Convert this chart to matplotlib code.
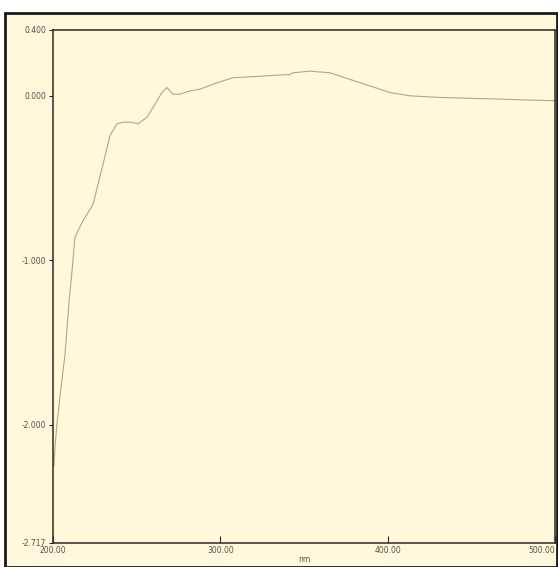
import matplotlib
matplotlib.use("Agg")
import matplotlib.pyplot as plt
from matplotlib.patches import Rectangle

# spectrum
wavelength_nm = [200.6, 201.2, 202.4, 204.8, 207.2, 209.6, 211.4, 213.1, 214.9,
                 217.9, 223.9, 229.3, 234.1, 238.2, 241.8, 246.6, 250.8, 256.2,
                 261.0, 265.1, 268.1, 269.9, 271.7, 275.9, 281.9, 287.8, 298.0,
                 307.6, 325.5, 341.6, 343.4, 353.6, 365.5, 377.5, 389.4, 401.4,
                 413.3, 431.3, 467.1, 500.0]
absorbance = [-2.25, -2.13, -1.99, -1.77, -1.57, -1.25, -1.06, -0.86, -0.82,
              -0.76, -0.66, -0.44, -0.24, -0.17, -0.16, -0.16, -0.17, -0.13,
              -0.05, 0.02, 0.05, 0.03, 0.01, 0.01, 0.03, 0.04, 0.08,
              0.11, 0.12, 0.13, 0.14, 0.15, 0.14, 0.10, 0.06, 0.02,
              0.00, -0.01, -0.02, -0.03]

x_ticks = [200, 300, 400, 500]
x_labels = ["200.00", "300.00", "400.00", "500.00"]
y_ticks = [0.4, 0.0, -1.0, -2.0, -2.717]
y_labels = ["0.400", "0.000", "-1.000", "-2.000", "-2.717"]

PAPER = "#fff8da"
INK = "#2e2828"
TRACE = "#b8a47e"
LABEL = "#555050"

fig = plt.figure(figsize=(5.58, 5.67), dpi=100, facecolor="white")
W, H = 558, 567
fig.patches.append(Rectangle((5 / W, 0), 552 / W, 554 / H, transform=fig.transFigure,
                             facecolor=PAPER, edgecolor="#1a1a1a", lw=2, zorder=-10))

ax = fig.add_axes([53 / W, 1 - 543 / H, 502 / W, 513 / H])
ax.set_facecolor(PAPER)
ax.plot(wavelength_nm, absorbance, color=TRACE, lw=0.8)

ax.set_xlim(200, 500)
ax.set_ylim(-2.717, 0.4)
ax.set_xticks(x_ticks)
ax.set_xticklabels(x_labels)
ax.get_xticklabels()[-1].set_horizontalalignment("right")
ax.set_yticks(y_ticks)
ax.set_yticklabels(y_labels)
ax.tick_params(axis="x", direction="in", length=5, labelsize=5.5, colors=INK,
               labelcolor=LABEL, pad=2)
ax.tick_params(axis="y", direction="out", length=3, labelsize=5.5, colors=INK,
               labelcolor=LABEL, pad=2)
ax.set_xlabel("nm", fontsize=5.5, color=LABEL, labelpad=0)
for s in ax.spines.values():
    s.set_color(INK)
    s.set_linewidth(1.1)

plt.savefig("out.png", dpi=100, facecolor=fig.get_facecolor())
